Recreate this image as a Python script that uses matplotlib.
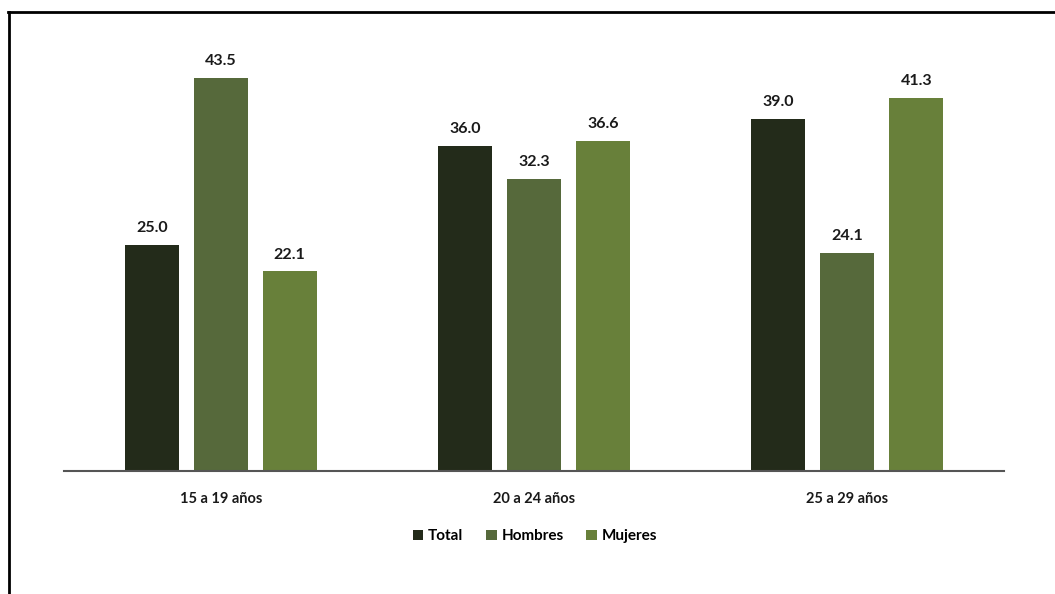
import matplotlib
matplotlib.use('Agg')
import matplotlib.pyplot as plt
from matplotlib.lines import Line2D
import numpy as np

groups = ['15 a 19 años', '20 a 24 años', '25 a 29 años']
series = ['Total', 'Hombres', 'Mujeres']
total = [25.0, 36.0, 39.0]
hombres = [43.5, 32.3, 24.1]
mujeres = [22.1, 36.6, 41.3]
colors = ['#232B1A', '#56693B', '#68803A']

plt.rcParams['font.family'] = ['Lato', 'DejaVu Sans']

fig = plt.figure(figsize=(10.55, 5.94), dpi=100)
ax = fig.add_axes([0.0607, 0.2071, 0.891, 0.76])

x = np.arange(len(groups))
width = 0.172
offset = 0.22
for i, (name, vals) in enumerate(zip(series, [total, hombres, mujeres])):
    bars = ax.bar(x + (i - 1) * offset, vals, width, color=colors[i], label=name)
    for b, v in zip(bars, vals):
        ax.text(b.get_x() + b.get_width() / 2, v + 1.1, f'{v:.1f}',
                ha='center', va='bottom', fontsize=11.5, fontweight='bold', color='#1a1a1a')

ax.set_xlim(-0.5, 2.5)
ax.set_ylim(0, 50)
ax.set_xticks(x)
ax.set_xticklabels(groups, fontsize=10.5, fontweight='bold', color='#1a1a1a')
ax.tick_params(axis='x', length=0, pad=15)
ax.set_yticks([])
for s in ['top', 'right', 'left']:
    ax.spines[s].set_visible(False)
ax.spines['bottom'].set_color('#555555')
ax.spines['bottom'].set_linewidth(1.5)

leg = fig.legend(loc='center', bbox_to_anchor=(0.507, 0.097), ncol=3, frameon=False,
                 handlelength=0.7, handleheight=0.7, handletextpad=0.3, columnspacing=1.5,
                 prop={'size': 11, 'weight': 'bold'})

# frame lines on top and left
fig.add_artist(Line2D([0.0075, 1.0], [0.98, 0.98], color='black', linewidth=2))
fig.add_artist(Line2D([0.0085, 0.0085], [0.0, 0.98], color='black', linewidth=2))

fig.savefig('out.png', dpi=100)
